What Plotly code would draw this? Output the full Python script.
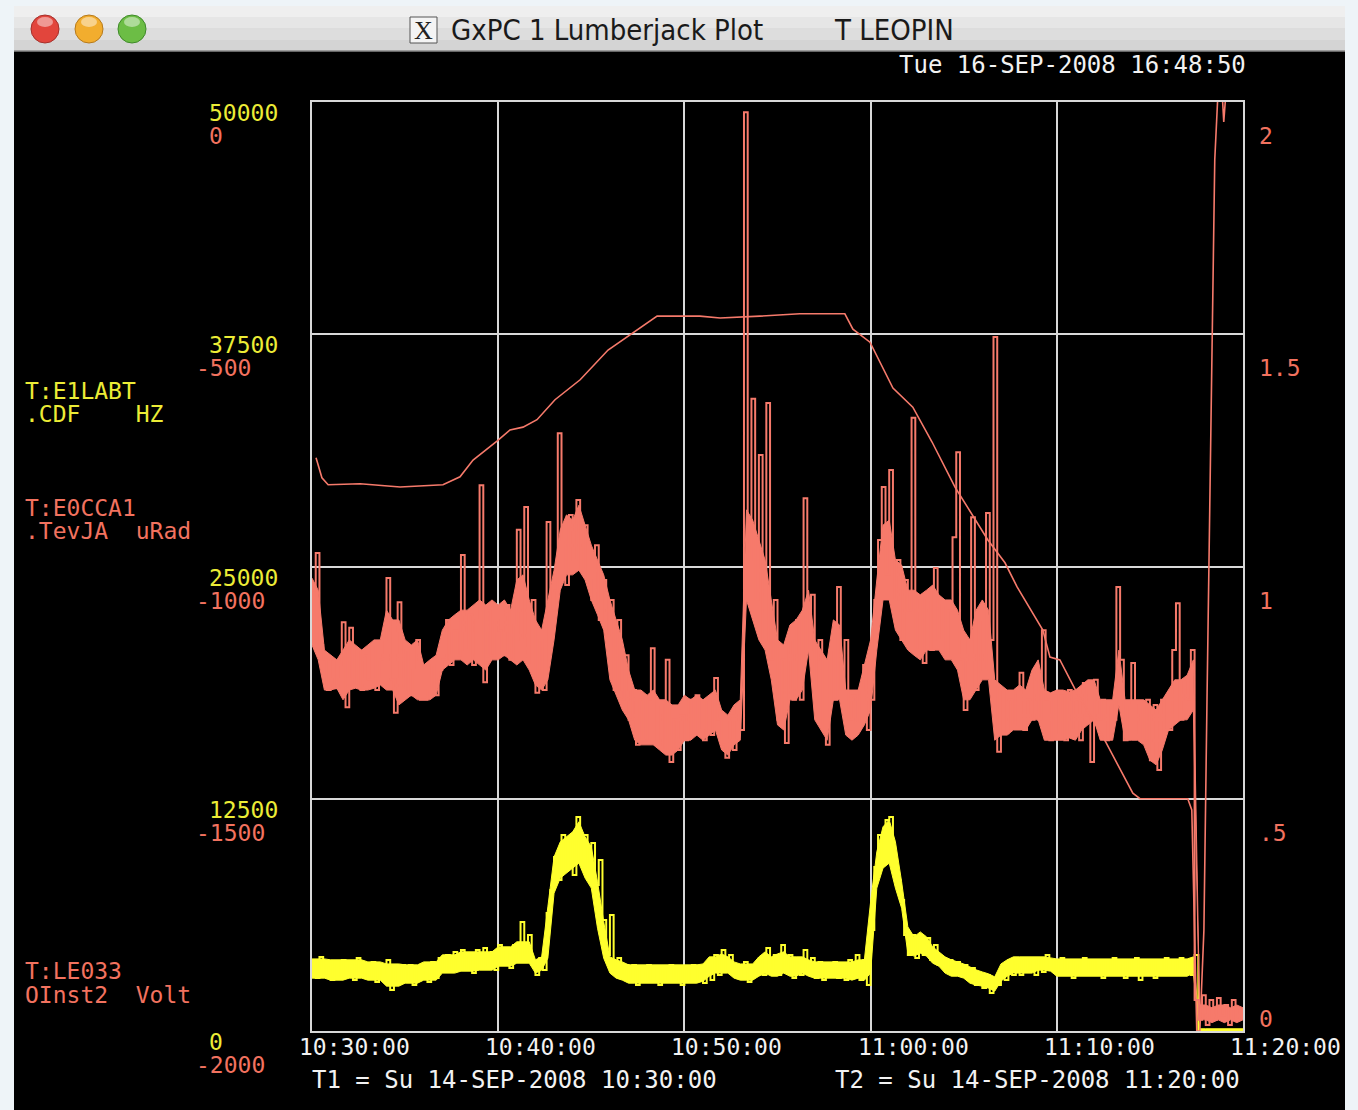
import plotly.graph_objects as go

# ---------------- data ----------------
# raw samples (seconds after 10:30:00), one every 12 s
sample_t = list(range(0, 3001, 12))
# band envelope samples, one every 20 s
env_t = list(range(0, 3001, 20))

# T:E0CCA1 .TevJA  (uRad) - sample values read minute by minute (5 / minute)
e0cca1_urad = [
    -1051, -971, -1169, -1201, -1266,
    -1201, -1262, -1212, -1120, -1303,
    -1132, -1255, -1180, -1266, -1191,
    -1244, -1169, -1266, -1201, -1158,
    -1025, -1244, -1315, -1077, -1266,
    -1180, -1277, -1223, -1158, -1287,
    -1287, -1266, -1212, -1277, -1223,
    -1201, -1115, -1212, -1137, -1191,
    -975, -1180, -1104, -1212, -1115,
    -825, -1249, -1094, -1191, -1115,
    -1137, -1191, -1083, -1201, -1126,
    -921, -1158, -872, -1212, -1072,
    -1272, -1158, -1266, -904, -1094,
    -1051, -713, -943, -1040, -889,
    -986, -857, -1008, -911, -1029,
    -1072, -954, -1115, -1029, -1148,
    -1072, -1266, -1115, -1287, -1191,
    -1330, -1266, -1384, -1287, -1374,
    -1287, -1176, -1384, -1298, -1395,
    -1201, -1421, -1330, -1395, -1320,
    -1374, -1287, -1363, -1277, -1352,
    -1374, -1287, -1363, -1240, -1330,
    -1384, -1412, -1320, -1395, -1298,
    -1352, -22, -986, -639, -1072,
    -760, -1158, -648, -1201, -1072,
    -1330, -1201, -1380, -1158, -1287,
    -1115, -1287, -853, -1180, -1061,
    -1266, -1158, -1352, -1384, -1180,
    -1287, -1044, -1266, -1158, -1330,
    -1277, -1337, -1266, -1212, -1352,
    -1287, -1072, -943, -829, -1018,
    -792, -1072, -986, -1158, -1029,
    -1094, -680, -1180, -1072, -1208,
    -1072, -1180, -1003, -1158, -1083,
    -1191, -1094, -937, -754, -1201,
    -1309, -1158, -894, -1266, -1115,
    -1223, -885, -1158, -506, -1399,
    -1266, -1359, -1287, -1341, -1266,
    -1229, -1352, -1287, -1330, -1223,
    -1330, -1137, -1287, -1374, -1277,
    -1363, -1277, -1374, -1266, -1352,
    -1287, -1374, -1251, -1320, -1421,
    -1244, -1330, -1287, -1374, -1298,
    -1330, -1044, -1201, -1374, -1298,
    -1208, -1363, -1298, -1374, -1287,
    -1417, -1298, -1438, -1287, -1352,
    -1352, -1180, -1079, -1330, -1244,
    -1287, -1180, -1933, -1976, -1923,
    -1987, -1933, -1976, -1929, -1966,
    -1944, -1987, -1933, -1976, -1955,
    -1966,
]
# dense noise band of T:E0CCA1 (upper / lower edge, 3 per minute)
e0cca1_hi = [
    -1025, -1051, -1180, -1191, -1201, -1180, -1158, -1169, -1180, -1169, -1158, -1158,
    -1094, -1115, -1115, -1158, -1169, -1158, -1212, -1201, -1191, -1137, -1115, -1104,
    -1094, -1094, -1083, -1072, -1083, -1072, -1083, -1072, -1094, -1029, -1018, -1072,
    -1115, -1137, -1072, -1008, -921, -889, -900, -868, -911, -954, -986, -1018,
    -1072, -1115, -1158, -1223, -1266, -1266, -1277, -1266, -1287, -1287, -1298, -1298,
    -1277, -1287, -1277, -1287, -1277, -1266, -1309, -1320, -1298, -1287, -878, -900,
    -943, -986, -1072, -1158, -1169, -1126, -1115, -1094, -1051, -1158, -1180, -1201,
    -1115, -1126, -1266, -1266, -1266, -1212, -1158, -1029, -911, -900, -986, -997,
    -1051, -1051, -1061, -1051, -1040, -1061, -1072, -1072, -1094, -1137, -1158, -1094,
    -1072, -1094, -1244, -1255, -1266, -1266, -1255, -1266, -1223, -1201, -1266, -1272,
    -1266, -1266, -1270, -1266, -1255, -1244, -1244, -1287, -1287, -1287, -1180, -1287,
    -1287, -1287, -1287, -1298, -1309, -1287, -1266, -1244, -1244, -1234, -1201, -1944,
    -1944, -1950, -1944, -1944, -1950, -1944, -1950,
]
e0cca1_lo = [
    -1169, -1201, -1266, -1266, -1262, -1287, -1266, -1262, -1266, -1266, -1262, -1255,
    -1266, -1266, -1298, -1287, -1277, -1287, -1287, -1287, -1277, -1223, -1212, -1201,
    -1201, -1212, -1201, -1212, -1223, -1201, -1201, -1191, -1201, -1212, -1201, -1223,
    -1255, -1266, -1244, -1158, -1051, -1018, -1018, -1008, -1029, -1072, -1104, -1137,
    -1244, -1277, -1309, -1330, -1374, -1384, -1384, -1384, -1395, -1406, -1406, -1395,
    -1374, -1374, -1363, -1374, -1363, -1352, -1395, -1406, -1384, -1374, -1072, -1115,
    -1158, -1180, -1244, -1341, -1352, -1287, -1287, -1266, -1180, -1330, -1352, -1374,
    -1287, -1287, -1363, -1374, -1363, -1341, -1309, -1180, -1072, -1072, -1137, -1158,
    -1180, -1191, -1201, -1180, -1180, -1180, -1201, -1201, -1223, -1287, -1287, -1266,
    -1244, -1244, -1374, -1363, -1363, -1352, -1352, -1352, -1330, -1330, -1374, -1374,
    -1374, -1374, -1369, -1374, -1352, -1341, -1330, -1374, -1374, -1374, -1298, -1374,
    -1374, -1374, -1384, -1417, -1427, -1395, -1352, -1341, -1330, -1330, -1309, -1976,
    -1976, -1982, -1976, -1982, -1976, -1982, -1976,
]

# T:E1LABT .CDF  (HZ) - sample values (5 / minute)
e1labt_hz = [
    3820, 2850, 3980, 3010, 3550,
    2750, 3710, 2850, 3820, 3010,
    3550, 2750, 3930, 3010, 3660,
    2850, 3710, 2640, 3550, 3010,
    3820, 2210, 3390, 2640, 3550,
    2750, 3550, 2480, 3390, 2850,
    3280, 2640, 3710, 2850, 3930,
    3180, 4090, 3280, 4250, 3390,
    4360, 3280, 4090, 3120, 4360,
    3390, 4470, 3550, 4250, 3280,
    4630, 3550, 4360, 3390, 4630,
    3820, 5870, 4090, 5170, 3550,
    3010, 3930, 3280, 6350, 7590,
    9370, 8130, 10550, 8670, 10280,
    8400, 11520, 9200, 10550, 8130,
    10120, 7860, 9200, 5970, 4090,
    6240, 3390, 3930, 3010, 3550,
    2750, 3550, 2480, 3390, 2850,
    3550, 2640, 3390, 2480, 3280,
    2640, 3550, 2750, 3390, 2480,
    3390, 2640, 3550, 2750, 3280,
    2580, 3500, 2750, 4090, 3010,
    4360, 3180, 4090, 3010, 3550,
    2850, 3710, 2640, 3390, 3010,
    3930, 3010, 4470, 3280, 4090,
    3010, 4630, 3390, 4090, 2850,
    3820, 3010, 4360, 3180, 3930,
    2850, 3710, 2750, 3550, 3010,
    3710, 2850, 3550, 2750, 3820,
    3010, 4090, 2750, 3820, 2480,
    5440, 8830, 10550, 9200, 11360,
    11520, 8670, 8130, 7050, 5170,
    4090, 5170, 3930, 4900, 4090,
    5010, 3820, 4630, 3550, 3930,
    3180, 3820, 3010, 3710, 3280,
    3550, 2750, 3390, 2480, 3010,
    2310, 3010, 2050, 2750, 2480,
    3390, 2750, 3820, 3010, 3710,
    3010, 3930, 3180, 3820, 3010,
    3930, 3180, 4090, 3280, 3820,
    3010, 3930, 3180, 3820, 2850,
    3710, 3010, 3930, 3180, 3820,
    3010, 3710, 2850, 3820, 3180,
    3930, 3010, 3710, 2850, 3820,
    3010, 3930, 2750, 3660, 3180,
    3820, 2850, 3710, 3010, 3930,
    3180, 3820, 3010, 3930, 3280,
    3820, 3010, 4090, 0, 0,
    0, 0, 0, 0, 0,
    0, 0, 0, 0, 0,
    0,
]
# dense noise band of T:E1LABT (upper / lower edge, 3 per minute)
e1labt_hi = [
    3880, 3880, 3880, 3830, 3830, 3830, 3830, 3830, 3830, 3720, 3720, 3720,
    3610, 3610, 3610, 3560, 3560, 3560, 3720, 3720, 3720, 4100, 4100, 4100,
    4260, 4260, 4260, 4260, 4260, 4260, 4530, 4530, 4530, 4800, 4800, 4800,
    3830, 3990, 6680, 9370, 10180, 10450, 10720, 11260, 10450, 9910, 8030, 5875,
    3990, 3830, 3720, 3560, 3560, 3560, 3560, 3560, 3560, 3560, 3560, 3560,
    3560, 3560, 3560, 3610, 3990, 3990, 4150, 3990, 3720, 3610, 3610, 3610,
    3990, 4260, 3990, 4150, 4260, 3990, 3990, 3990, 3830, 3720, 3720, 3720,
    3720, 3720, 3720, 3720, 3830, 3830, 6950, 9640, 10990, 11360, 10180, 8030,
    5605, 5070, 5335, 5070, 4530, 4260, 3990, 3830, 3720, 3610, 3450, 3290,
    3180, 3075, 2915, 3610, 3830, 3990, 3990, 3990, 3990, 3990, 3990, 3935,
    3880, 3880, 3880, 3880, 3880, 3880, 3880, 3880, 3880, 3880, 3880, 3880,
    3880, 3880, 3880, 3880, 3880, 3880, 3880, 3880, 3880, 3880, 3990, 120,
    120, 120, 120, 120, 120, 120, 120,
]
e1labt_lo = [
    2845, 2845, 2845, 2737, 2737, 2737, 2845, 2845, 2845, 2737, 2737, 2737,
    2415, 2415, 2415, 2575, 2575, 2575, 2737, 2737, 2737, 3115, 3115, 3115,
    3220, 3220, 3220, 3275, 3275, 3275, 3490, 3490, 3490, 3650, 3650, 3650,
    3115, 3275, 3920, 7420, 8230, 8500, 8765, 9035, 8230, 7690, 5535, 3920,
    3115, 2845, 2737, 2575, 2575, 2575, 2575, 2575, 2575, 2575, 2575, 2575,
    2575, 2575, 2575, 2680, 2950, 3115, 3115, 3115, 2845, 2737, 2737, 2737,
    2950, 3115, 2950, 2950, 3115, 2950, 2950, 3115, 2950, 2845, 2845, 2845,
    2845, 2845, 2845, 2737, 2845, 2737, 3115, 7690, 8765, 9035, 7690, 6610,
    4190, 4030, 4190, 4030, 3650, 3490, 3115, 2950, 2950, 2845, 2575, 2470,
    2415, 2305, 2145, 2680, 2950, 3115, 3115, 3115, 3115, 3275, 3275, 3220,
    2950, 2950, 2950, 2950, 2950, 2950, 2950, 2950, 2950, 2950, 2950, 2950,
    2950, 2950, 2950, 2950, 2950, 2950, 2950, 2950, 2950, 2950, 3115, 0,
    0, 0, 0, 0, 0, 0, 0,
]

# T:LE033 DInst2 (Volt)
le033_t = [13, 32, 52, 155, 284, 422, 477, 519, 596, 638,
           680, 725, 783, 864, 954, 1025, 1083, 1112, 1250, 1315,
           1443, 1572, 1717, 1743, 1798, 1872, 1936, 1998, 2072, 2178,
           2233, 2272, 2355, 2378, 2410, 2465, 2549, 2645, 2668, 2822,
           2835, 2851, 2861, 2874, 2884, 2893, 2903, 2909, 2919, 2932,
           2938, 2945, 2958, 3000]
le033_v = [1.234, 1.191, 1.176, 1.178, 1.171, 1.176, 1.193, 1.229, 1.270, 1.294,
           1.300, 1.316, 1.359, 1.402, 1.466, 1.499, 1.527, 1.539, 1.539, 1.535,
           1.539, 1.544, 1.544, 1.511, 1.483, 1.384, 1.343, 1.268, 1.171, 1.057,
           1.008, 0.956, 0.863, 0.805, 0.799, 0.728, 0.633, 0.512, 0.500, 0.500,
           0.476, 0.0, 0.0, 0.217, 0.713, 1.165, 1.574, 1.875, 2.015, 2.03,
           1.957, 2.02, 2.05, 2.05]

# axes / tick labels
x_tick_t = [0, 600, 1200, 1800, 2400, 3000]
x_tick_labels = ["10:30:00", "10:40:00", "10:50:00", "11:00:00", "11:10:00", "11:20:00"]
hz_ticks = [50000, 37500, 25000, 12500, 0]
urad_ticks = [0, -500, -1000, -1500, -2000]
volt_ticks = [2, 1.5, 1, 0.5, 0]
volt_tick_labels = ["2", "1.5", "1", ".5", "0"]

# ---------------- style ----------------
W, H = 1358, 1110
L, R, T, B = 312, 1243, 102, 1031
YEL_TR = "#ffff2e"
YEL_TX = "#ecec36"
RED_TR = "#f67a6b"
RED_TX = "#f2725f"
WHITE = "#f2f2f2"
GRID = "#d8d8d8"
MONO = "DejaVu Sans Mono, monospace"
FS = 23


def px(x):
    return (x - L) / (R - L)


def py(y):
    return (B - y) / (B - T)


NB = "\u00a0"

fig = go.Figure()


def band(t, lo, hi, yax, color):
    fig.add_trace(go.Scatter(x=t, y=lo, mode="lines", yaxis=yax,
                             line=dict(color=color, width=1), hoverinfo="skip"))
    fig.add_trace(go.Scatter(x=t, y=hi, mode="lines", yaxis=yax, fill="tonexty", fillcolor=color,
                             line=dict(color=color, width=1), hoverinfo="skip"))


band(env_t, e1labt_lo, e1labt_hi, "y", YEL_TR)
fig.add_trace(go.Scatter(x=sample_t, y=e1labt_hz, mode="lines", yaxis="y",
                         line=dict(color=YEL_TR, width=2, shape="hv"), hoverinfo="skip"))
band(env_t, e0cca1_lo, e0cca1_hi, "y2", RED_TR)
fig.add_trace(go.Scatter(x=sample_t, y=e0cca1_urad, mode="lines", yaxis="y2",
                         line=dict(color=RED_TR, width=2, shape="hv"), hoverinfo="skip"))
fig.add_trace(go.Scatter(x=le033_t, y=le033_v, mode="lines", yaxis="y3",
                         line=dict(color=RED_TR, width=1.6), hoverinfo="skip"))

shapes = []
LIGHT = "#eef4f8"
# desktop background around the window
shapes.append(dict(type="rect", xref="paper", yref="paper", x0=px(0), x1=px(14),
                   y0=py(H), y1=py(0), fillcolor=LIGHT, line=dict(width=0), layer="below"))
shapes.append(dict(type="rect", xref="paper", yref="paper", x0=px(1345), x1=px(W),
                   y0=py(H), y1=py(0), fillcolor=LIGHT, line=dict(width=0), layer="below"))
shapes.append(dict(type="rect", xref="paper", yref="paper", x0=px(0), x1=px(W),
                   y0=py(6), y1=py(0), fillcolor=LIGHT, line=dict(width=0), layer="below"))
# title bar (gradient bands)
bands = [("#efefef", 6, 17), ("#e6e6e6", 17, 28), ("#dddddd", 28, 40), ("#d4d4d4", 40, 51)]
for col, a, b in bands:
    shapes.append(dict(type="rect", xref="paper", yref="paper", x0=px(14), x1=px(1345),
                       y0=py(b), y1=py(a), fillcolor=col, line=dict(width=0), layer="below"))
shapes.append(dict(type="line", xref="paper", yref="paper", x0=px(14), x1=px(1345),
                   y0=py(51), y1=py(51), line=dict(color="#8a8a8a", width=1.5), layer="below"))
# traffic lights
for cx, col, edge in [(45, "#e2453c", "#a5302b"), (89, "#f2ad2e", "#b67a1c"), (132, "#6cbd45", "#3f8a2a")]:
    shapes.append(dict(type="circle", xref="paper", yref="paper", x0=px(cx - 14), x1=px(cx + 14),
                       y0=py(43), y1=py(15), fillcolor=col, line=dict(color=edge, width=1), layer="below"))
    shapes.append(dict(type="circle", xref="paper", yref="paper", x0=px(cx - 8), x1=px(cx + 8),
                       y0=py(27), y1=py(17), fillcolor="rgba(255,255,255,0.45)", line=dict(width=0), layer="below"))
# X11 icon box
shapes.append(dict(type="rect", xref="paper", yref="paper", x0=px(410), x1=px(437),
                   y0=py(43), y1=py(17), fillcolor="#f4f4f4", line=dict(color="#555555", width=1), layer="below"))

ann = []


def text(x, y, s, color, size=FS, anchor="left", font=MONO, **kw):
    d = dict(xref="paper", yref="paper", x=px(x), y=py(y), text=s.replace(" ", NB),
             showarrow=False, xanchor=anchor, yanchor="middle", borderpad=0,
             font=dict(family=font, size=size, color=color))
    d.update(kw)
    ann.append(d)


TITLE_FONT = "DejaVu Sans Condensed, Liberation Sans Narrow, sans-serif"
# title
text(423.5, 30, "X", "#222222", size=26, anchor="center", font="Liberation Serif, serif")
text(450, 30, "GxPC 1 Lumberjack Plot", "#1a1a1a", size=29, font=TITLE_FONT)
text(833, 30, "T LEOPIN", "#1a1a1a", size=29, font=TITLE_FONT)

# timestamp
text(1247, 65, "Tue 16-SEP-2008 16:48:50", WHITE, size=24, anchor="right")

# legend labels
text(24, 391, "T:E1LABT", YEL_TX)
text(24, 414, ".CDF    HZ", YEL_TX)
text(24, 508, "T:E0CCA1", RED_TX)
text(24, 531, ".TevJA  uRad", RED_TX)
text(24, 971, "T:LE033", RED_TX)
text(24, 995, "OInst2  Volt", RED_TX)

# bottom info line
text(311, 1080, "T1 = Su 14-SEP-2008 10:30:00", WHITE, size=24)
text(834, 1080, "T2 = Su 14-SEP-2008 11:20:00", WHITE, size=24)

# y tick labels
for v in hz_ticks:
    ann.append(dict(xref="paper", yref="y", x=px(208), y=v, yshift=-11, text=str(v),
                    showarrow=False, xanchor="left", yanchor="middle", borderpad=0,
                    font=dict(family=MONO, size=FS, color=YEL_TX)))
for v in urad_ticks:
    xx = 195 if v < 0 else 208
    ann.append(dict(xref="paper", yref="y2", x=px(xx), y=v, yshift=-34, text=str(v),
                    showarrow=False, xanchor="left", yanchor="middle", borderpad=0,
                    font=dict(family=MONO, size=FS, color=RED_TX)))
for v, s in zip(volt_ticks, volt_tick_labels):
    ann.append(dict(xref="paper", yref="y3", x=px(1258), y=v, yshift=(12 if v == 0 else -34), text=s,
                    showarrow=False, xanchor="left", yanchor="middle", borderpad=0,
                    font=dict(family=MONO, size=FS, color=RED_TX)))
# x tick labels
for t, s in zip(x_tick_t, x_tick_labels):
    ann.append(dict(xref="x", yref="paper", x=t, y=py(1047), xshift=-14, text=s,
                    showarrow=False, xanchor="left", yanchor="middle", borderpad=0,
                    font=dict(family=MONO, size=FS, color=WHITE)))

axis_common = dict(showgrid=True, gridcolor=GRID, gridwidth=2, zeroline=False,
                   showticklabels=False, ticks="", showline=True, linecolor=GRID,
                   linewidth=2, mirror=True, layer="below traces", fixedrange=True)

fig.update_layout(
    width=W, height=H,
    margin=dict(l=L, r=W - R, t=T, b=H - B, pad=0),
    paper_bgcolor="#000000", plot_bgcolor="#000000",
    showlegend=False,
    xaxis=dict(range=[0, 3000], tickvals=x_tick_t, **axis_common),
    yaxis=dict(range=[0, 50000], tickvals=hz_ticks, **axis_common),
    yaxis2=dict(range=[-2000, 0], overlaying="y", visible=False, fixedrange=True),
    yaxis3=dict(range=[0, 2], overlaying="y", side="right", visible=False, fixedrange=True),
    shapes=shapes,
    annotations=ann,
)

fig.write_html("out.html", config={"displayModeBar": False},
               post_script="document.body.style.margin='0';document.body.style.overflow='hidden';")
